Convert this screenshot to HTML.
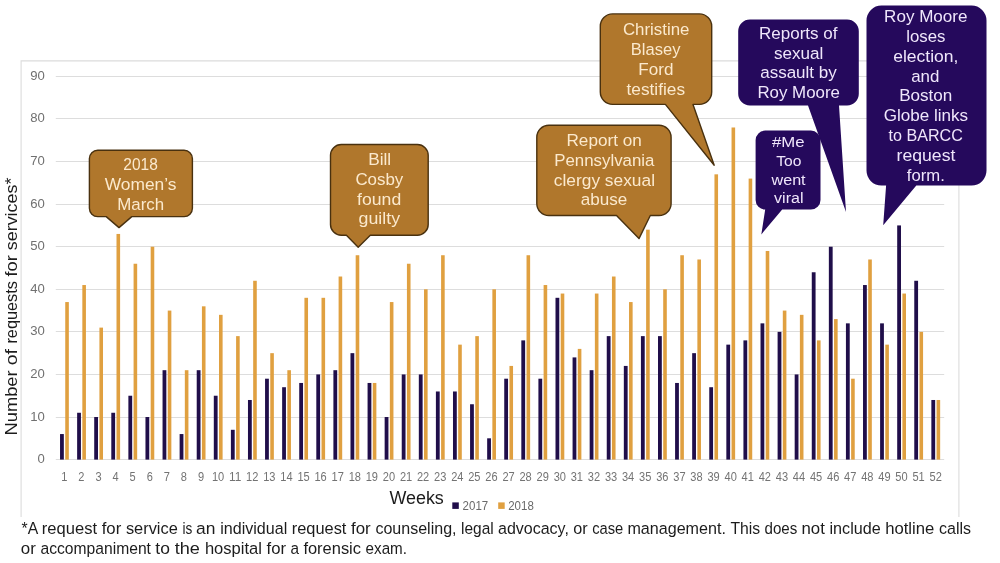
<!DOCTYPE html>
<html><head><meta charset="utf-8"><title>Requests for services</title>
<style>
html,body{margin:0;padding:0;background:#fff;}
body{width:1000px;height:563px;overflow:hidden;}
svg{display:block}
text{font-family:"Liberation Sans",sans-serif;}
.tick{font-size:12px;fill:#737373;}
.ytick{font-size:12px;fill:#707070;}
.ax{fill:#1c1c1c;}
.co{fill:#fbe9cd;}
.cp{fill:#efe6fb;}
.fn{font-size:16.3px;fill:#1c1c1c;}
.lg{font-size:12.3px;fill:#6a6a6a;}
</style></head><body>
<svg width="1000" height="563" viewBox="0 0 1000 563">
<rect x="0" y="0" width="1000" height="563" fill="#ffffff"/>
<path d="M21.1,517 V60.9 H958.9 V517" fill="none" stroke="#dcdcdc" stroke-width="1.1"/>

<line x1="55.8" y1="459.50" x2="944.2" y2="459.50" stroke="#dddddd" stroke-width="1"/>
<text class="ytick" x="37.60" y="463.40" textLength="7.30" lengthAdjust="spacingAndGlyphs">0</text>
<line x1="55.8" y1="417.50" x2="944.2" y2="417.50" stroke="#dddddd" stroke-width="1"/>
<text class="ytick" x="30.30" y="421.40" textLength="14.60" lengthAdjust="spacingAndGlyphs">10</text>
<line x1="55.8" y1="374.50" x2="944.2" y2="374.50" stroke="#dddddd" stroke-width="1"/>
<text class="ytick" x="30.30" y="378.40" textLength="14.60" lengthAdjust="spacingAndGlyphs">20</text>
<line x1="55.8" y1="331.50" x2="944.2" y2="331.50" stroke="#dddddd" stroke-width="1"/>
<text class="ytick" x="30.30" y="335.40" textLength="14.60" lengthAdjust="spacingAndGlyphs">30</text>
<line x1="55.8" y1="289.50" x2="944.2" y2="289.50" stroke="#dddddd" stroke-width="1"/>
<text class="ytick" x="30.30" y="293.40" textLength="14.60" lengthAdjust="spacingAndGlyphs">40</text>
<line x1="55.8" y1="246.50" x2="944.2" y2="246.50" stroke="#dddddd" stroke-width="1"/>
<text class="ytick" x="30.30" y="250.40" textLength="14.60" lengthAdjust="spacingAndGlyphs">50</text>
<line x1="55.8" y1="204.50" x2="944.2" y2="204.50" stroke="#dddddd" stroke-width="1"/>
<text class="ytick" x="30.30" y="208.40" textLength="14.60" lengthAdjust="spacingAndGlyphs">60</text>
<line x1="55.8" y1="161.50" x2="944.2" y2="161.50" stroke="#dddddd" stroke-width="1"/>
<text class="ytick" x="30.30" y="165.40" textLength="14.60" lengthAdjust="spacingAndGlyphs">70</text>
<line x1="55.8" y1="118.50" x2="944.2" y2="118.50" stroke="#dddddd" stroke-width="1"/>
<text class="ytick" x="30.30" y="122.40" textLength="14.60" lengthAdjust="spacingAndGlyphs">80</text>
<line x1="55.8" y1="76.50" x2="944.2" y2="76.50" stroke="#dddddd" stroke-width="1"/>
<text class="ytick" x="30.30" y="80.40" textLength="14.60" lengthAdjust="spacingAndGlyphs">90</text>
<rect x="60.04" y="434.05" width="3.8" height="25.55" fill="#200e4a"/>
<rect x="65.24" y="302.06" width="3.6" height="157.54" fill="#e0a040"/>
<text class="tick" x="61.27" y="480.7" textLength="6.15" lengthAdjust="spacingAndGlyphs">1</text>
<rect x="77.13" y="412.76" width="3.8" height="46.84" fill="#200e4a"/>
<rect x="82.33" y="285.03" width="3.6" height="174.57" fill="#e0a040"/>
<text class="tick" x="78.35" y="480.7" textLength="6.15" lengthAdjust="spacingAndGlyphs">2</text>
<rect x="94.21" y="417.02" width="3.8" height="42.58" fill="#200e4a"/>
<rect x="99.41" y="327.61" width="3.6" height="131.99" fill="#e0a040"/>
<text class="tick" x="95.44" y="480.7" textLength="6.15" lengthAdjust="spacingAndGlyphs">3</text>
<rect x="111.30" y="412.76" width="3.8" height="46.84" fill="#200e4a"/>
<rect x="116.50" y="233.94" width="3.6" height="225.66" fill="#e0a040"/>
<text class="tick" x="112.52" y="480.7" textLength="6.15" lengthAdjust="spacingAndGlyphs">4</text>
<rect x="128.38" y="395.73" width="3.8" height="63.87" fill="#200e4a"/>
<rect x="133.58" y="263.74" width="3.6" height="195.86" fill="#e0a040"/>
<text class="tick" x="129.61" y="480.7" textLength="6.15" lengthAdjust="spacingAndGlyphs">5</text>
<rect x="145.47" y="417.02" width="3.8" height="42.58" fill="#200e4a"/>
<rect x="150.67" y="246.71" width="3.6" height="212.89" fill="#e0a040"/>
<text class="tick" x="146.69" y="480.7" textLength="6.15" lengthAdjust="spacingAndGlyphs">6</text>
<rect x="162.55" y="370.19" width="3.8" height="89.41" fill="#200e4a"/>
<rect x="167.75" y="310.58" width="3.6" height="149.02" fill="#e0a040"/>
<text class="tick" x="163.78" y="480.7" textLength="6.15" lengthAdjust="spacingAndGlyphs">7</text>
<rect x="179.63" y="434.05" width="3.8" height="25.55" fill="#200e4a"/>
<rect x="184.83" y="370.19" width="3.6" height="89.41" fill="#e0a040"/>
<text class="tick" x="180.86" y="480.7" textLength="6.15" lengthAdjust="spacingAndGlyphs">8</text>
<rect x="196.72" y="370.19" width="3.8" height="89.41" fill="#200e4a"/>
<rect x="201.92" y="306.32" width="3.6" height="153.28" fill="#e0a040"/>
<text class="tick" x="197.94" y="480.7" textLength="6.15" lengthAdjust="spacingAndGlyphs">9</text>
<rect x="213.80" y="395.73" width="3.8" height="63.87" fill="#200e4a"/>
<rect x="219.00" y="314.84" width="3.6" height="144.76" fill="#e0a040"/>
<text class="tick" x="211.95" y="480.7" textLength="12.30" lengthAdjust="spacingAndGlyphs">10</text>
<rect x="230.89" y="429.80" width="3.8" height="29.80" fill="#200e4a"/>
<rect x="236.09" y="336.12" width="3.6" height="123.48" fill="#e0a040"/>
<text class="tick" x="229.04" y="480.7" textLength="12.30" lengthAdjust="spacingAndGlyphs">11</text>
<rect x="247.97" y="399.99" width="3.8" height="59.61" fill="#200e4a"/>
<rect x="253.17" y="280.77" width="3.6" height="178.83" fill="#e0a040"/>
<text class="tick" x="246.12" y="480.7" textLength="12.30" lengthAdjust="spacingAndGlyphs">12</text>
<rect x="265.06" y="378.70" width="3.8" height="80.90" fill="#200e4a"/>
<rect x="270.26" y="353.16" width="3.6" height="106.44" fill="#e0a040"/>
<text class="tick" x="263.21" y="480.7" textLength="12.30" lengthAdjust="spacingAndGlyphs">13</text>
<rect x="282.14" y="387.22" width="3.8" height="72.38" fill="#200e4a"/>
<rect x="287.34" y="370.19" width="3.6" height="89.41" fill="#e0a040"/>
<text class="tick" x="280.29" y="480.7" textLength="12.30" lengthAdjust="spacingAndGlyphs">14</text>
<rect x="299.23" y="382.96" width="3.8" height="76.64" fill="#200e4a"/>
<rect x="304.43" y="297.80" width="3.6" height="161.80" fill="#e0a040"/>
<text class="tick" x="297.38" y="480.7" textLength="12.30" lengthAdjust="spacingAndGlyphs">15</text>
<rect x="316.31" y="374.44" width="3.8" height="85.16" fill="#200e4a"/>
<rect x="321.51" y="297.80" width="3.6" height="161.80" fill="#e0a040"/>
<text class="tick" x="314.46" y="480.7" textLength="12.30" lengthAdjust="spacingAndGlyphs">16</text>
<rect x="333.40" y="370.19" width="3.8" height="89.41" fill="#200e4a"/>
<rect x="338.60" y="276.52" width="3.6" height="183.08" fill="#e0a040"/>
<text class="tick" x="331.55" y="480.7" textLength="12.30" lengthAdjust="spacingAndGlyphs">17</text>
<rect x="350.48" y="353.16" width="3.8" height="106.44" fill="#200e4a"/>
<rect x="355.68" y="255.23" width="3.6" height="204.37" fill="#e0a040"/>
<text class="tick" x="348.63" y="480.7" textLength="12.30" lengthAdjust="spacingAndGlyphs">18</text>
<rect x="367.57" y="382.96" width="3.8" height="76.64" fill="#200e4a"/>
<rect x="372.77" y="382.96" width="3.6" height="76.64" fill="#e0a040"/>
<text class="tick" x="365.72" y="480.7" textLength="12.30" lengthAdjust="spacingAndGlyphs">19</text>
<rect x="384.65" y="417.02" width="3.8" height="42.58" fill="#200e4a"/>
<rect x="389.85" y="302.06" width="3.6" height="157.54" fill="#e0a040"/>
<text class="tick" x="382.80" y="480.7" textLength="12.30" lengthAdjust="spacingAndGlyphs">20</text>
<rect x="401.73" y="374.44" width="3.8" height="85.16" fill="#200e4a"/>
<rect x="406.93" y="263.74" width="3.6" height="195.86" fill="#e0a040"/>
<text class="tick" x="399.88" y="480.7" textLength="12.30" lengthAdjust="spacingAndGlyphs">21</text>
<rect x="418.82" y="374.44" width="3.8" height="85.16" fill="#200e4a"/>
<rect x="424.02" y="289.29" width="3.6" height="170.31" fill="#e0a040"/>
<text class="tick" x="416.97" y="480.7" textLength="12.30" lengthAdjust="spacingAndGlyphs">22</text>
<rect x="435.90" y="391.48" width="3.8" height="68.12" fill="#200e4a"/>
<rect x="441.10" y="255.23" width="3.6" height="204.37" fill="#e0a040"/>
<text class="tick" x="434.05" y="480.7" textLength="12.30" lengthAdjust="spacingAndGlyphs">23</text>
<rect x="452.99" y="391.48" width="3.8" height="68.12" fill="#200e4a"/>
<rect x="458.19" y="344.64" width="3.6" height="114.96" fill="#e0a040"/>
<text class="tick" x="451.14" y="480.7" textLength="12.30" lengthAdjust="spacingAndGlyphs">24</text>
<rect x="470.07" y="404.25" width="3.8" height="55.35" fill="#200e4a"/>
<rect x="475.27" y="336.12" width="3.6" height="123.48" fill="#e0a040"/>
<text class="tick" x="468.22" y="480.7" textLength="12.30" lengthAdjust="spacingAndGlyphs">25</text>
<rect x="487.16" y="438.31" width="3.8" height="21.29" fill="#200e4a"/>
<rect x="492.36" y="289.29" width="3.6" height="170.31" fill="#e0a040"/>
<text class="tick" x="485.31" y="480.7" textLength="12.30" lengthAdjust="spacingAndGlyphs">26</text>
<rect x="504.24" y="378.70" width="3.8" height="80.90" fill="#200e4a"/>
<rect x="509.44" y="365.93" width="3.6" height="93.67" fill="#e0a040"/>
<text class="tick" x="502.39" y="480.7" textLength="12.30" lengthAdjust="spacingAndGlyphs">27</text>
<rect x="521.33" y="340.38" width="3.8" height="119.22" fill="#200e4a"/>
<rect x="526.53" y="255.23" width="3.6" height="204.37" fill="#e0a040"/>
<text class="tick" x="519.48" y="480.7" textLength="12.30" lengthAdjust="spacingAndGlyphs">28</text>
<rect x="538.41" y="378.70" width="3.8" height="80.90" fill="#200e4a"/>
<rect x="543.61" y="285.03" width="3.6" height="174.57" fill="#e0a040"/>
<text class="tick" x="536.56" y="480.7" textLength="12.30" lengthAdjust="spacingAndGlyphs">29</text>
<rect x="555.50" y="297.80" width="3.8" height="161.80" fill="#200e4a"/>
<rect x="560.70" y="293.55" width="3.6" height="166.05" fill="#e0a040"/>
<text class="tick" x="553.65" y="480.7" textLength="12.30" lengthAdjust="spacingAndGlyphs">30</text>
<rect x="572.58" y="357.41" width="3.8" height="102.19" fill="#200e4a"/>
<rect x="577.78" y="348.90" width="3.6" height="110.70" fill="#e0a040"/>
<text class="tick" x="570.73" y="480.7" textLength="12.30" lengthAdjust="spacingAndGlyphs">31</text>
<rect x="589.67" y="370.19" width="3.8" height="89.41" fill="#200e4a"/>
<rect x="594.87" y="293.55" width="3.6" height="166.05" fill="#e0a040"/>
<text class="tick" x="587.82" y="480.7" textLength="12.30" lengthAdjust="spacingAndGlyphs">32</text>
<rect x="606.75" y="336.12" width="3.8" height="123.48" fill="#200e4a"/>
<rect x="611.95" y="276.52" width="3.6" height="183.08" fill="#e0a040"/>
<text class="tick" x="604.90" y="480.7" textLength="12.30" lengthAdjust="spacingAndGlyphs">33</text>
<rect x="623.83" y="365.93" width="3.8" height="93.67" fill="#200e4a"/>
<rect x="629.03" y="302.06" width="3.6" height="157.54" fill="#e0a040"/>
<text class="tick" x="621.98" y="480.7" textLength="12.30" lengthAdjust="spacingAndGlyphs">34</text>
<rect x="640.92" y="336.12" width="3.8" height="123.48" fill="#200e4a"/>
<rect x="646.12" y="229.68" width="3.6" height="229.92" fill="#e0a040"/>
<text class="tick" x="639.07" y="480.7" textLength="12.30" lengthAdjust="spacingAndGlyphs">35</text>
<rect x="658.00" y="336.12" width="3.8" height="123.48" fill="#200e4a"/>
<rect x="663.20" y="289.29" width="3.6" height="170.31" fill="#e0a040"/>
<text class="tick" x="656.15" y="480.7" textLength="12.30" lengthAdjust="spacingAndGlyphs">36</text>
<rect x="675.09" y="382.96" width="3.8" height="76.64" fill="#200e4a"/>
<rect x="680.29" y="255.23" width="3.6" height="204.37" fill="#e0a040"/>
<text class="tick" x="673.24" y="480.7" textLength="12.30" lengthAdjust="spacingAndGlyphs">37</text>
<rect x="692.17" y="353.16" width="3.8" height="106.44" fill="#200e4a"/>
<rect x="697.37" y="259.48" width="3.6" height="200.12" fill="#e0a040"/>
<text class="tick" x="690.32" y="480.7" textLength="12.30" lengthAdjust="spacingAndGlyphs">38</text>
<rect x="709.26" y="387.22" width="3.8" height="72.38" fill="#200e4a"/>
<rect x="714.46" y="174.33" width="3.6" height="285.27" fill="#e0a040"/>
<text class="tick" x="707.41" y="480.7" textLength="12.30" lengthAdjust="spacingAndGlyphs">39</text>
<rect x="726.34" y="344.64" width="3.8" height="114.96" fill="#200e4a"/>
<rect x="731.54" y="127.49" width="3.6" height="332.11" fill="#e0a040"/>
<text class="tick" x="724.49" y="480.7" textLength="12.30" lengthAdjust="spacingAndGlyphs">40</text>
<rect x="743.43" y="340.38" width="3.8" height="119.22" fill="#200e4a"/>
<rect x="748.63" y="178.59" width="3.6" height="281.01" fill="#e0a040"/>
<text class="tick" x="741.58" y="480.7" textLength="12.30" lengthAdjust="spacingAndGlyphs">41</text>
<rect x="760.51" y="323.35" width="3.8" height="136.25" fill="#200e4a"/>
<rect x="765.71" y="250.97" width="3.6" height="208.63" fill="#e0a040"/>
<text class="tick" x="758.66" y="480.7" textLength="12.30" lengthAdjust="spacingAndGlyphs">42</text>
<rect x="777.60" y="331.87" width="3.8" height="127.73" fill="#200e4a"/>
<rect x="782.80" y="310.58" width="3.6" height="149.02" fill="#e0a040"/>
<text class="tick" x="775.75" y="480.7" textLength="12.30" lengthAdjust="spacingAndGlyphs">43</text>
<rect x="794.68" y="374.44" width="3.8" height="85.16" fill="#200e4a"/>
<rect x="799.88" y="314.84" width="3.6" height="144.76" fill="#e0a040"/>
<text class="tick" x="792.83" y="480.7" textLength="12.30" lengthAdjust="spacingAndGlyphs">44</text>
<rect x="811.77" y="272.26" width="3.8" height="187.34" fill="#200e4a"/>
<rect x="816.97" y="340.38" width="3.6" height="119.22" fill="#e0a040"/>
<text class="tick" x="809.92" y="480.7" textLength="12.30" lengthAdjust="spacingAndGlyphs">45</text>
<rect x="828.85" y="246.71" width="3.8" height="212.89" fill="#200e4a"/>
<rect x="834.05" y="319.09" width="3.6" height="140.51" fill="#e0a040"/>
<text class="tick" x="827.00" y="480.7" textLength="12.30" lengthAdjust="spacingAndGlyphs">46</text>
<rect x="845.93" y="323.35" width="3.8" height="136.25" fill="#200e4a"/>
<rect x="851.13" y="378.70" width="3.6" height="80.90" fill="#e0a040"/>
<text class="tick" x="844.08" y="480.7" textLength="12.30" lengthAdjust="spacingAndGlyphs">47</text>
<rect x="863.02" y="285.03" width="3.8" height="174.57" fill="#200e4a"/>
<rect x="868.22" y="259.48" width="3.6" height="200.12" fill="#e0a040"/>
<text class="tick" x="861.17" y="480.7" textLength="12.30" lengthAdjust="spacingAndGlyphs">48</text>
<rect x="880.10" y="323.35" width="3.8" height="136.25" fill="#200e4a"/>
<rect x="885.30" y="344.64" width="3.6" height="114.96" fill="#e0a040"/>
<text class="tick" x="878.25" y="480.7" textLength="12.30" lengthAdjust="spacingAndGlyphs">49</text>
<rect x="897.19" y="225.42" width="3.8" height="234.18" fill="#200e4a"/>
<rect x="902.39" y="293.55" width="3.6" height="166.05" fill="#e0a040"/>
<text class="tick" x="895.34" y="480.7" textLength="12.30" lengthAdjust="spacingAndGlyphs">50</text>
<rect x="914.27" y="280.77" width="3.8" height="178.83" fill="#200e4a"/>
<rect x="919.47" y="331.87" width="3.6" height="127.73" fill="#e0a040"/>
<text class="tick" x="912.42" y="480.7" textLength="12.30" lengthAdjust="spacingAndGlyphs">51</text>
<rect x="931.36" y="399.99" width="3.8" height="59.61" fill="#200e4a"/>
<rect x="936.56" y="399.99" width="3.6" height="59.61" fill="#e0a040"/>
<text class="tick" x="929.51" y="480.7" textLength="12.30" lengthAdjust="spacingAndGlyphs">52</text>
<text class="ax" font-size="17.5" x="389.4" y="503.6" textLength="54.4" lengthAdjust="spacingAndGlyphs">Weeks</text>
<rect x="452.3" y="502.4" width="6.5" height="6.5" fill="#200e4a"/><text class="lg" x="462.6" y="509.9" textLength="25.6" lengthAdjust="spacingAndGlyphs">2017</text>
<rect x="498.2" y="502.4" width="6.5" height="6.5" fill="#e0a040"/><text class="lg" x="508.2" y="509.9" textLength="25.6" lengthAdjust="spacingAndGlyphs">2018</text>
<text class="ax" xml:space="preserve" font-size="16.8" transform="translate(17.3,435.4) rotate(-90)" y="0"><tspan x="0" textLength="70.1" lengthAdjust="spacingAndGlyphs">Number </tspan><tspan x="70.1" textLength="21.7" lengthAdjust="spacingAndGlyphs">of </tspan><tspan x="91.8" textLength="67.0" lengthAdjust="spacingAndGlyphs">requests </tspan><tspan x="158.8" textLength="26.4" lengthAdjust="spacingAndGlyphs">for </tspan><tspan x="185.2" textLength="72.6" lengthAdjust="spacingAndGlyphs">services*</tspan></text>
<text class="fn" xml:space="preserve" y="533.6"><tspan x="21.6" textLength="20.2" lengthAdjust="spacingAndGlyphs">*A </tspan><tspan x="41.8" textLength="59.9" lengthAdjust="spacingAndGlyphs">request </tspan><tspan x="101.7" textLength="24.2" lengthAdjust="spacingAndGlyphs">for </tspan><tspan x="125.9" textLength="56.5" lengthAdjust="spacingAndGlyphs">service </tspan><tspan x="182.4" textLength="13.6" lengthAdjust="spacingAndGlyphs">is </tspan><tspan x="196" textLength="24.2" lengthAdjust="spacingAndGlyphs">an </tspan><tspan x="220.2" textLength="71.5" lengthAdjust="spacingAndGlyphs">individual </tspan><tspan x="291.7" textLength="59.3" lengthAdjust="spacingAndGlyphs">request </tspan><tspan x="351" textLength="24.4" lengthAdjust="spacingAndGlyphs">for </tspan><tspan x="375.4" textLength="85.6" lengthAdjust="spacingAndGlyphs">counseling, </tspan><tspan x="461" textLength="37.0" lengthAdjust="spacingAndGlyphs">legal </tspan><tspan x="498" textLength="75.3" lengthAdjust="spacingAndGlyphs">advocacy, </tspan><tspan x="573.3" textLength="18.9" lengthAdjust="spacingAndGlyphs">or </tspan><tspan x="592.2" textLength="35.2" lengthAdjust="spacingAndGlyphs">case </tspan><tspan x="627.4" textLength="103.0" lengthAdjust="spacingAndGlyphs">management. </tspan><tspan x="730.4" textLength="34.1" lengthAdjust="spacingAndGlyphs">This </tspan><tspan x="764.5" textLength="37.0" lengthAdjust="spacingAndGlyphs">does </tspan><tspan x="801.5" textLength="28.0" lengthAdjust="spacingAndGlyphs">not </tspan><tspan x="829.5" textLength="55.7" lengthAdjust="spacingAndGlyphs">include </tspan><tspan x="885.2" textLength="53.8" lengthAdjust="spacingAndGlyphs">hotline </tspan><tspan x="939" textLength="32.0" lengthAdjust="spacingAndGlyphs">calls</tspan></text>
<text class="fn" xml:space="preserve" y="553.8"><tspan x="20.8" textLength="19.7" lengthAdjust="spacingAndGlyphs">or </tspan><tspan x="40.5" textLength="114.8" lengthAdjust="spacingAndGlyphs">accompaniment </tspan><tspan x="155.3" textLength="19.4" lengthAdjust="spacingAndGlyphs">to </tspan><tspan x="174.7" textLength="30.2" lengthAdjust="spacingAndGlyphs">the </tspan><tspan x="204.9" textLength="61.6" lengthAdjust="spacingAndGlyphs">hospital </tspan><tspan x="266.5" textLength="24.1" lengthAdjust="spacingAndGlyphs">for </tspan><tspan x="290.6" textLength="12.8" lengthAdjust="spacingAndGlyphs">a </tspan><tspan x="303.4" textLength="62.2" lengthAdjust="spacingAndGlyphs">forensic </tspan><tspan x="365.6" textLength="41.4" lengthAdjust="spacingAndGlyphs">exam.</tspan></text>
<path d="M97.7,150.3 H184.1 A8.3,8.3 0 0 1 192.4,158.60000000000002 V208.29999999999998 A8.3,8.3 0 0 1 184.1,216.6 H131.8 L119,227.6 L106.2,216.6 H97.7 A8.3,8.3 0 0 1 89.4,208.29999999999998 V158.60000000000002 A8.3,8.3 0 0 1 97.7,150.3 Z" fill="#b0772c" stroke="#49310f" stroke-width="1.4" stroke-linejoin="round"/>
<text class="co" font-size="16.3" x="123.3" y="170.0" textLength="34.5" lengthAdjust="spacingAndGlyphs">2018</text>
<text class="co" font-size="16.3" x="104.7" y="190.2" textLength="71.8" lengthAdjust="spacingAndGlyphs">Women’s</text>
<text class="co" font-size="16.3" x="117.3" y="210.0" textLength="46.9" lengthAdjust="spacingAndGlyphs">March</text>
<path d="M341.3,144.5 H417.4 A10.8,10.8 0 0 1 428.2,155.3 V224.39999999999998 A10.8,10.8 0 0 1 417.4,235.2 H370.3 L358.2,247.2 L346.4,235.2 H341.3 A10.8,10.8 0 0 1 330.5,224.39999999999998 V155.3 A10.8,10.8 0 0 1 341.3,144.5 Z" fill="#b0772c" stroke="#49310f" stroke-width="1.4" stroke-linejoin="round"/>
<text class="co" font-size="16.3" x="368.2" y="165.3" textLength="23" lengthAdjust="spacingAndGlyphs">Bill</text>
<text class="co" font-size="16.3" x="355.4" y="185.3" textLength="47.9" lengthAdjust="spacingAndGlyphs">Cosby</text>
<text class="co" font-size="16.3" x="357.1" y="205.1" textLength="44.1" lengthAdjust="spacingAndGlyphs">found</text>
<text class="co" font-size="16.3" x="358.6" y="224.3" textLength="41.5" lengthAdjust="spacingAndGlyphs">guilty</text>
<path d="M548.9,125.3 H659.0 A12.1,12.1 0 0 1 671.1,137.4 V203.4 A12.1,12.1 0 0 1 659.0,215.5 H650.3 L639,238.6 L616.5,215.5 H548.9 A12.1,12.1 0 0 1 536.8,203.4 V137.4 A12.1,12.1 0 0 1 548.9,125.3 Z" fill="#b0772c" stroke="#49310f" stroke-width="1.4" stroke-linejoin="round"/>
<text class="co" font-size="16.3" x="566.5" y="146.1" textLength="75.2" lengthAdjust="spacingAndGlyphs">Report on</text>
<text class="co" font-size="16.3" x="554.2" y="166.0" textLength="100.3" lengthAdjust="spacingAndGlyphs">Pennsylvania</text>
<text class="co" font-size="16.3" x="553.8" y="185.8" textLength="101.2" lengthAdjust="spacingAndGlyphs">clergy sexual</text>
<text class="co" font-size="16.3" x="580.8" y="205.4" textLength="46.5" lengthAdjust="spacingAndGlyphs">abuse</text>
<path d="M612.5999999999999,13.9 H699.4000000000001 A12.3,12.3 0 0 1 711.7,26.200000000000003 V92.10000000000001 A12.3,12.3 0 0 1 699.4000000000001,104.4 H693 L714.2,165.2 L665.4,104.4 H612.5999999999999 A12.3,12.3 0 0 1 600.3,92.10000000000001 V26.200000000000003 A12.3,12.3 0 0 1 612.5999999999999,13.9 Z" fill="#b0772c" stroke="#49310f" stroke-width="1.4" stroke-linejoin="round"/>
<text class="co" font-size="16.3" x="622.9" y="35.3" textLength="66.5" lengthAdjust="spacingAndGlyphs">Christine</text>
<text class="co" font-size="16.3" x="630.8" y="55.3" textLength="49.6" lengthAdjust="spacingAndGlyphs">Blasey</text>
<text class="co" font-size="16.3" x="638.3" y="75.1" textLength="35.1" lengthAdjust="spacingAndGlyphs">Ford</text>
<text class="co" font-size="16.3" x="626.5" y="94.7" textLength="58.6" lengthAdjust="spacingAndGlyphs">testifies</text>
<path d="M749.9000000000001,19.6 H847.0999999999999 A11.7,11.7 0 0 1 858.8,31.3 V93.7 A11.7,11.7 0 0 1 847.0999999999999,105.4 H839 L846,212 L808,105.4 H749.9000000000001 A11.7,11.7 0 0 1 738.2,93.7 V31.3 A11.7,11.7 0 0 1 749.9000000000001,19.6 Z" fill="#25095c" stroke="none" stroke-width="0" stroke-linejoin="round"/>
<text class="cp" font-size="16.3" x="759.1" y="38.5" textLength="78.4" lengthAdjust="spacingAndGlyphs">Reports of</text>
<text class="cp" font-size="16.3" x="774" y="58.5" textLength="49.4" lengthAdjust="spacingAndGlyphs">sexual</text>
<text class="cp" font-size="16.3" x="760.2" y="77.9" textLength="76.6" lengthAdjust="spacingAndGlyphs">assault by</text>
<text class="cp" font-size="16.3" x="757.4" y="97.9" textLength="82.6" lengthAdjust="spacingAndGlyphs">Roy Moore</text>
<path d="M765.2,130.6 H810.9 A9.6,9.6 0 0 1 820.5,140.2 V199.9 A9.6,9.6 0 0 1 810.9,209.5 H782.2 L761.3,234.4 L765.2,209.5 H765.2 A9.6,9.6 0 0 1 755.6,199.9 V140.2 A9.6,9.6 0 0 1 765.2,130.6 Z" fill="#25095c" stroke="none" stroke-width="0" stroke-linejoin="round"/>
<text class="cp" font-size="15.2" x="772" y="147.2" textLength="32.6" lengthAdjust="spacingAndGlyphs">#Me</text>
<text class="cp" font-size="15.2" x="776.2" y="165.9" textLength="25.2" lengthAdjust="spacingAndGlyphs">Too</text>
<text class="cp" font-size="15.2" x="771.5" y="184.5" textLength="34.1" lengthAdjust="spacingAndGlyphs">went</text>
<text class="cp" font-size="15.2" x="774.1" y="203.1" textLength="29.4" lengthAdjust="spacingAndGlyphs">viral</text>
<path d="M881.5,5.6 H971.5 A15.0,15.0 0 0 1 986.5,20.6 V170.6 A15.0,15.0 0 0 1 971.5,185.6 H916.3 L883.2,225.3 L886.1,185.6 H881.5 A15.0,15.0 0 0 1 866.5,170.6 V20.6 A15.0,15.0 0 0 1 881.5,5.6 Z" fill="#25095c" stroke="none" stroke-width="0" stroke-linejoin="round"/>
<text class="cp" font-size="16.3" x="884.1" y="22.0" textLength="83.4" lengthAdjust="spacingAndGlyphs">Roy Moore</text>
<text class="cp" font-size="16.3" x="906.2" y="42.1" textLength="39.2" lengthAdjust="spacingAndGlyphs">loses</text>
<text class="cp" font-size="16.3" x="893.2" y="61.8" textLength="65.2" lengthAdjust="spacingAndGlyphs">election,</text>
<text class="cp" font-size="16.3" x="911.2" y="81.8" textLength="28.2" lengthAdjust="spacingAndGlyphs">and</text>
<text class="cp" font-size="16.3" x="899.2" y="100.9" textLength="53.2" lengthAdjust="spacingAndGlyphs">Boston</text>
<text class="cp" font-size="16.3" x="883.7" y="121.1" textLength="84.4" lengthAdjust="spacingAndGlyphs">Globe links</text>
<text class="cp" font-size="16.3" x="888.6" y="141.2" textLength="74.3" lengthAdjust="spacingAndGlyphs">to BARCC</text>
<text class="cp" font-size="16.3" x="896.6" y="161.3" textLength="58.8" lengthAdjust="spacingAndGlyphs">request</text>
<text class="cp" font-size="16.3" x="906.8" y="181.3" textLength="38" lengthAdjust="spacingAndGlyphs">form.</text>
</svg></body></html>
